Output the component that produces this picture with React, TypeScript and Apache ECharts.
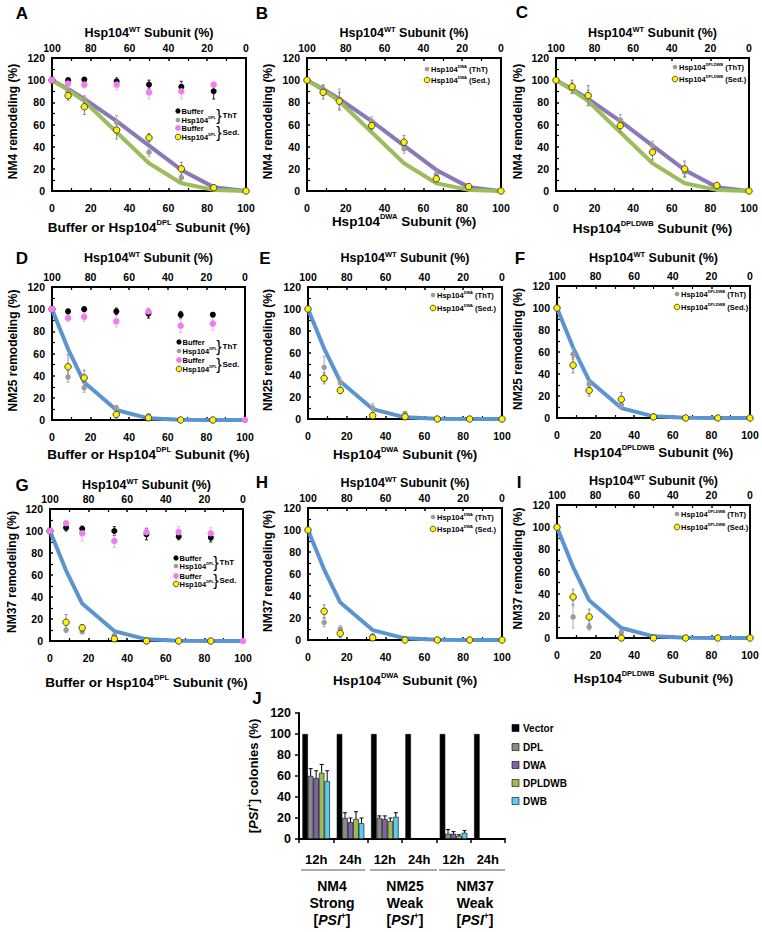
import React, { useEffect, useRef } from "react";
import * as echarts from "echarts";

const FONT = 'Arial, "Liberation Sans", Helvetica, sans-serif';

// Hsp104 mutant subunit (%) — WT subunit = 100 - x
const subunitPct = [0, 8.33, 16.67, 33.33, 50, 66.67, 83.33, 100];

// model curves
const nm4ModelPurple = [100, 92, 83, 63, 41, 19, 3.5, 0];
const nm4ModelGreen = [100, 91, 81, 53, 25, 7, 1, 0];
const weakModelBlue = [100, 64, 34, 9, 1.5, 0.3, 0, 0];

// A: NM4, DPL
const aBufferThT = [null, 100, 100.5, 99, 96, 94, 90, null];
const aBufferThTErr = [0, 2, 2, 3, 4, 5, 7, 0];
const aBufferSed = [100, 97, 96, 96, 89, 90, 96, null];
const aBufferSedErr = [0, 3, 3, 5, 6, 7, 2, 0];
const aMutThT = [100, 90, 83, 62, 35, 12, 3, 0];
const aMutThTErr = [0, 3, 3, 6, 4, 3, 1, 0];
const aMutSed = [100, 86, 76, 55, 48, 20, 3, 0];
const aMutSedErr = [0, 4, 7, 8, 4, 6, 1, 0];
// B: NM4, DWA
const bMutThT = [100, 92, 83, 63, 38, 15, 4, 0];
const bMutThTErr = [0, 4, 9, 4, 4, 3, 1, 0];
const bMutSed = [100, 89, 81, 59, 44, 11, 4, 0];
const bMutSedErr = [0, 6, 8, 4, 6, 2, 1, 0];
// C: NM4, DPLDWB
const cMutThT = [100, 93, 84, 64, 41, 17, 5, 0];
const cMutThTErr = [0, 5, 7, 5, 4, 5, 1, 0];
const cMutSed = [100, 94, 86, 59, 35, 20, 5, 0];
const cMutSedErr = [0, 6, 9, 6, 7, 7, 1, 0];
// D: NM25, DPL
const dBufferThT = [null, 98, 100, 98, 96, 95, 95, null];
const dBufferThTErr = [0, 2, 2, 3, 4, 3, 2, 0];
const dBufferSed = [100, 92, 93, 89, 98, 85, 87, 0];
const dBufferSedErr = [0, 3, 4, 5, 3, 6, 6, 0];
const dMutThT = [100, 39, 29, 11, 4, 0, 0, null];
const dMutThTErr = [0, 5, 4, 2, 1, 0, 0, 0];
const dMutSed = [100, 48, 38, 5, 2, 0, 0, null];
const dMutSedErr = [0, 11, 7, 4, 1, 0, 0, 0];
// E: NM25, DWA
const eMutThT = [100, 47, 33, 10, 5, 0, 0, 0];
const eMutThTErr = [0, 10, 5, 4, 2, 0, 0, 0];
const eMutSed = [100, 37, 26, 3, 2, 0, 0, 0];
const eMutSedErr = [0, 5, 3, 2, 1, 0, 0, 0];
// F: NM25, DPLDWB
const fMutThT = [100, 58, 31, 12, 2, 0, 0, 0];
const fMutThTErr = [0, 5, 3, 3, 1, 0, 0, 0];
const fMutSed = [100, 48, 25, 17, 1, 0, 0, 0];
const fMutSedErr = [0, 7, 5, 6, 1, 0, 0, 0];
// G: NM37, DPL
const gBufferThT = [null, 103, 102, 100, 97, 95, 94, null];
const gBufferThTErr = [0, 3, 3, 4, 5, 3, 4, 0];
const gBufferSed = [100, 107, 98, 91, 99, 99, 98, 0];
const gBufferSedErr = [0, 2, 7, 6, 4, 5, 5, 0];
const gMutThT = [100, 10, 8.5, 5, 0, 0, 0, null];
const gMutThTErr = [0, 2, 2, 2, 0, 0, 0, 0];
const gMutSed = [100, 17, 12, 2, 0, 0, 0, null];
const gMutSedErr = [0, 7, 3, 2, 0, 0, 0, 0];
// H: NM37, DWA
const hMutThT = [100, 16, 10, 4, 0, 0, 0, 0];
const hMutThTErr = [0, 4, 3, 1, 0, 0, 0, 0];
const hMutSed = [100, 26, 6, 2, 0, 0, 0, 0];
const hMutSedErr = [0, 6, 4, 1, 0, 0, 0, 0];
// I: NM37, DPLDWB
const iMutThT = [100, 19, 10, 5, 0, 0, 0, 0];
const iMutThTErr = [0, 10, 3, 2, 0, 0, 0, 0];
const iMutSed = [100, 37, 19, 0, 0, 0, 0, 0];
const iMutSedErr = [0, 7, 7, 0, 0, 0, 0, 0];

// J: [PSI+] colonies
const jCategories = ["12h", "24h", "12h", "24h", "12h", "24h"];
const jSeriesNames = ["Vector", "DPL", "DWA", "DPLDWB", "DWB"];
const jVector = [100, 100, 100, 100, 100, 100];
const jDPL = [60, 20, 20, 0, 5, 0];
const jDPLErr = [7, 5, 2, 0, 4, 0];
const jDWA = [58, 16, 19, 0, 5, 0];
const jDWAErr = [7, 4, 3, 0, 2, 0];
const jDPLDWB = [63, 19, 17, 0, 3, 0];
const jDPLDWBErr = [8, 7, 3, 0, 1, 0];
const jDWB = [55, 15, 21, 0, 6, 0];
const jDWBErr = [10, 5, 4, 0, 2, 0];
const jStrains = ["NM4", "NM25", "NM37"];
const jStrength = ["Strong", "Weak", "Weak"];

const PURPLE = "#8B78B9";
const GREEN = "#9DBC5C";
const BLUE = "#5A95CF";
const J_COLORS = ["#000000", "#8A8A8A", "#8064A2", "#9BBB59", "#5CCCEA"];

const MK: any = {
  mutThT: { color: "#9C9C9C", size: 5.5, err: "#ABABAB", border: null },
  mutSed: { color: "#FFF200", size: 6.5, err: "#8A8A8A", border: "#333" },
  bufThT: { color: "#000000", size: 6, err: "#222", border: null },
  bufSed: { color: "#F07CF0", size: 6.5, err: "#F3A8F3", border: null },
};

const panels = [
  { id: "A", strain: "NM4", mut: "DPL", buffer: true, models: [[nm4ModelPurple, PURPLE], [nm4ModelGreen, GREEN]],
    pts: { mutThT: [aMutThT, aMutThTErr], mutSed: [aMutSed, aMutSedErr], bufThT: [aBufferThT, aBufferThTErr], bufSed: [aBufferSed, aBufferSedErr] },
    L: { left: 52, top: 58, width: 194, height: 133, lx: 22, ly: 13, titleY: 33, xTitleY: 227, yNameX: 13, lgx: 178, lgRows: [111, 120, 128, 137], braceX: 219 } },
  { id: "B", strain: "NM4", mut: "DWA", buffer: false, models: [[nm4ModelPurple, PURPLE], [nm4ModelGreen, GREEN]],
    pts: { mutThT: [bMutThT, bMutThTErr], mutSed: [bMutSed, bMutSedErr] },
    L: { left: 307, top: 58, width: 194, height: 133, lx: 262, ly: 13, titleY: 33, xTitleY: 221, yNameX: 268, lgx: 427, lgRows: [69, 80] } },
  { id: "C", strain: "NM4", mut: "DPLDWB", buffer: false, models: [[nm4ModelPurple, PURPLE], [nm4ModelGreen, GREEN]],
    pts: { mutThT: [cMutThT, cMutThTErr], mutSed: [cMutSed, cMutSedErr] },
    L: { left: 556, top: 58, width: 193, height: 133, lx: 522, ly: 12, titleY: 33, xTitleY: 228, yNameX: 518, lgx: 675, lgRows: [67, 79] } },
  { id: "D", strain: "NM25", mut: "DPL", buffer: true, models: [[weakModelBlue, BLUE]],
    pts: { mutThT: [dMutThT, dMutThTErr], mutSed: [dMutSed, dMutSedErr], bufThT: [dBufferThT, dBufferThTErr], bufSed: [dBufferSed, dBufferSedErr] },
    L: { left: 52, top: 287, width: 193, height: 133, lx: 22, ly: 258, titleY: 258, xTitleY: 454, yNameX: 13, lgx: 179, lgRows: [342, 351, 360, 369], braceX: 219 } },
  { id: "E", strain: "NM25", mut: "DWA", buffer: false, models: [[weakModelBlue, BLUE]],
    pts: { mutThT: [eMutThT, eMutThTErr], mutSed: [eMutSed, eMutSedErr] },
    L: { left: 308, top: 287, width: 194, height: 132, lx: 265, ly: 258, titleY: 258, xTitleY: 454, yNameX: 268, lgx: 433, lgRows: [295, 308] } },
  { id: "F", strain: "NM25", mut: "DPLDWB", buffer: false, models: [[weakModelBlue, BLUE]],
    pts: { mutThT: [fMutThT, fMutThTErr], mutSed: [fMutSed, fMutSedErr] },
    L: { left: 557, top: 286, width: 193, height: 132, lx: 520, ly: 258, titleY: 258, xTitleY: 452, yNameX: 518, lgx: 677, lgRows: [294, 307] } },
  { id: "G", strain: "NM37", mut: "DPL", buffer: true, models: [[weakModelBlue, BLUE]],
    pts: { mutThT: [gMutThT, gMutThTErr], mutSed: [gMutSed, gMutSedErr], bufThT: [gBufferThT, gBufferThTErr], bufSed: [gBufferSed, gBufferSedErr] },
    L: { left: 50, top: 509, width: 193, height: 132, lx: 22, ly: 485, titleY: 485, xTitleY: 682, yNameX: 12, lgx: 176, lgRows: [558, 566, 576, 584], braceX: 216 } },
  { id: "H", strain: "NM37", mut: "DWA", buffer: false, models: [[weakModelBlue, BLUE]],
    pts: { mutThT: [hMutThT, hMutThTErr], mutSed: [hMutSed, hMutSedErr] },
    L: { left: 308, top: 508, width: 194, height: 132, lx: 262, ly: 482, titleY: 483, xTitleY: 680, yNameX: 268, lgx: 433, lgRows: [517, 529] } },
  { id: "I", strain: "NM37", mut: "DPLDWB", buffer: false, models: [[weakModelBlue, BLUE]],
    pts: { mutThT: [iMutThT, iMutThTErr], mutSed: [iMutSed, iMutSedErr] },
    L: { left: 557, top: 505, width: 193, height: 133, lx: 519, ly: 482, titleY: 481, xTitleY: 678, yNameX: 518, lgx: 677, lgRows: [514, 527] } },
];

const J_L = { left: 299, top: 713, width: 206, height: 126 };

function pairs(ys: any[]) {
  return subunitPct.map((x, i) => [x, ys[i]]).filter((p) => p[1] != null);
}
function errs(ys: any[], es: number[]) {
  return subunitPct
    .map((x, i) => (ys[i] == null || !es[i] ? null : [x, ys[i] - es[i], ys[i] + es[i]]))
    .filter(Boolean);
}

function rich(size: number, sup: number, lh: number) {
  return {
    a: { fontFamily: FONT, fontWeight: "bold", fontSize: size, fill: "#000", color: "#000", lineHeight: lh },
    i: { fontFamily: FONT, fontWeight: "bold", fontStyle: "italic", fontSize: size, fill: "#000", color: "#000", lineHeight: lh },
    s: { fontFamily: FONT, fontWeight: "bold", fontSize: sup, fill: "#000", color: "#000", verticalAlign: "top" },
  };
}

function txt(x: number, y: number, text: string, r: any, align = "center", rotation = 0) {
  return {
    type: "text",
    x,
    y,
    rotation,
    silent: true,
    style: { text, rich: r, align, verticalAlign: "middle", fill: "#000", fontFamily: FONT, fontWeight: "bold", fontSize: 12 },
  };
}

function lineErrRender(color: string) {
  return (params: any, api: any) => {
    const x = api.value(0);
    const a = api.coord([x, api.value(2)]);
    const b = api.coord([x, Math.max(0, api.value(1))]);
    const st = { stroke: color, lineWidth: 1 };
    return {
      type: "group",
      children: [
        { type: "line", shape: { x1: a[0], y1: a[1], x2: b[0], y2: b[1] }, style: st },
        { type: "line", shape: { x1: a[0] - 1.5, y1: a[1], x2: a[0] + 1.5, y2: a[1] }, style: st },
        { type: "line", shape: { x1: b[0] - 1.5, y1: b[1], x2: b[0] + 1.5, y2: b[1] }, style: st },
      ],
    };
  };
}

function buildOption() {
  const grid: any[] = [];
  const xAxis: any[] = [];
  const yAxis: any[] = [];
  const series: any[] = [];
  const graphic: any[] = [];

  const tickLabel = { fontFamily: FONT, fontWeight: "bold", fontSize: 10.5, color: "#000" };
  const axLine = { show: true, lineStyle: { color: "#000", width: 2 } };
  const axTick = { show: true, inside: true, length: 3, lineStyle: { color: "#000", width: 1.5 } };
  const minor = { show: true, splitNumber: 2, length: 3, lineStyle: { color: "#000", width: 1.2 } };

  const R_title = rich(12.5, 7.5, 16);
  const R_xtitle = rich(13.5, 7.5, 17);
  const R_yname = rich(12, 7, 15);
  const R_leg = rich(7.5, 4, 9);
  const R_legBuf = rich(7.5, 3.8, 9);

  panels.forEach((p: any, i: number) => {
    const L = p.L;
    grid.push({ left: L.left, top: L.top, width: L.width, height: L.height, show: true, borderColor: "#000", borderWidth: 2, backgroundColor: "transparent" });
    xAxis.push({
      gridIndex: i, type: "value", min: 0, max: 100, interval: 20, position: "bottom",
      axisLine: axLine, axisTick: axTick, minorTick: minor, splitLine: { show: false },
      axisLabel: { ...tickLabel, margin: 11 },
    });
    xAxis.push({
      gridIndex: i, type: "value", min: 0, max: 100, interval: 20, position: "top", inverse: true,
      axisLine: axLine, axisTick: axTick, minorTick: minor, splitLine: { show: false },
      axisLabel: { ...tickLabel, margin: 5 },
    });
    yAxis.push({
      gridIndex: i, type: "value", min: 0, max: 120, interval: 20,
      axisLine: axLine, axisTick: axTick, minorTick: minor, splitLine: { show: false },
      axisLabel: { ...tickLabel, margin: 7 },
    });
    const xi = 2 * i;
    p.models.forEach((m: any) => {
      series.push({
        type: "line", xAxisIndex: xi, yAxisIndex: i, data: pairs(m[0]), showSymbol: false, symbol: "none",
        lineStyle: { color: m[1], width: 4 }, z: 2, silent: true,
      });
    });
    const order = ["mutThT", "mutSed", "bufThT", "bufSed"];
    order.forEach((k) => {
      const d = p.pts[k];
      if (!d) return;
      series.push({
        type: "custom", xAxisIndex: xi, yAxisIndex: i, data: errs(d[0], d[1]), encode: { x: 0, y: [1, 2] },
        renderItem: lineErrRender(MK[k].err), z: 3, silent: true,
      });
    });
    order.forEach((k) => {
      const d = p.pts[k];
      if (!d) return;
      series.push({
        type: "scatter", xAxisIndex: xi, yAxisIndex: i, data: pairs(d[0]), symbol: "circle", symbolSize: MK[k].size,
        itemStyle: { color: MK[k].color, borderColor: MK[k].border || MK[k].color, borderWidth: MK[k].border ? 0.9 : 0, opacity: 1 },
        z: 4, silent: true,
      });
    });

    const cx = L.left + L.width / 2;
    graphic.push({ type: "text", x: L.lx, y: L.ly, silent: true, style: { text: p.id, fontFamily: FONT, fontWeight: "bold", fontSize: 17, fill: "#000", align: "center", verticalAlign: "middle" } });
    graphic.push(txt(cx, L.titleY, "{a|Hsp104}{s|WT}{a| Subunit (%)}", R_title));
    const xt = p.buffer ? `{a|Buffer or Hsp104}{s|${p.mut}}{a| Subunit (%)}` : `{a|Hsp104}{s|${p.mut}}{a| Subunit (%)}`;
    graphic.push(txt(cx, L.xTitleY, xt, R_xtitle));
    graphic.push(txt(L.yNameX, L.top + L.height / 2 - 3, `{a|${p.strain} remodeling (%)}`, R_yname, "center", Math.PI / 2));

    // legend
    const circ = (x: number, y: number, k: string) => ({
      type: "circle", silent: true, shape: { cx: x, cy: y, r: MK[k].size / 2 - 0.4 },
      style: { fill: MK[k].color, stroke: MK[k].border || MK[k].color, lineWidth: MK[k].border ? 0.8 : 0 },
    });
    if (p.buffer) {
      const rows = L.lgRows;
      const items = [
        ["bufThT", "{a|Buffer}"],
        ["mutThT", `{a|Hsp104}{s|${p.mut}}`],
        ["bufSed", "{a|Buffer}"],
        ["mutSed", `{a|Hsp104}{s|${p.mut}}`],
      ];
      items.forEach((it, r) => {
        graphic.push(circ(L.lgx, rows[r], it[0]));
        graphic.push(txt(L.lgx + 3.5, rows[r], it[1], R_legBuf, "left"));
      });
      [[0, "ThT"], [2, "Sed."]].forEach((b: any) => {
        const yc = (rows[b[0]] + rows[b[0] + 1]) / 2;
        graphic.push({ type: "text", x: L.braceX, y: yc, silent: true, style: { text: "}", fontFamily: FONT, fontWeight: "normal", fontSize: 16, fill: "#000", align: "center", verticalAlign: "middle" } });
        graphic.push(txt(L.braceX + 3.5, yc, `{a|${b[1]}}`, rich(8, 5, 10), "left"));
      });
    } else {
      const rows = L.lgRows;
      graphic.push(circ(L.lgx, rows[0], "mutThT"));
      graphic.push(txt(L.lgx + 4, rows[0], `{a|Hsp104}{s|${p.mut}}{a| (ThT)}`, R_leg, "left"));
      graphic.push(circ(L.lgx, rows[1], "mutSed"));
      graphic.push(txt(L.lgx + 4, rows[1], `{a|Hsp104}{s|${p.mut}}{a| (Sed.)}`, R_leg, "left"));
    }
  });

  // ---------- Panel J ----------
  const jg = panels.length;
  grid.push({ left: J_L.left, top: J_L.top, width: J_L.width, height: J_L.height, show: false });
  const jx = xAxis.length;
  xAxis.push({
    gridIndex: jg, type: "category", data: jCategories,
    axisLine: { show: true, lineStyle: { color: "#000", width: 2 } },
    axisTick: { show: true, length: 4, lineStyle: { color: "#000", width: 1.5 } },
    axisLabel: { fontFamily: FONT, fontWeight: "bold", fontSize: 13, color: "#000", margin: 14 },
  });
  yAxis.push({
    gridIndex: jg, type: "value", min: 0, max: 120, interval: 20,
    axisLine: { show: true, lineStyle: { color: "#000", width: 2 } },
    axisTick: { show: true, length: 4, lineStyle: { color: "#000", width: 1.5 } },
    splitLine: { show: false },
    axisLabel: { fontFamily: FONT, fontWeight: "bold", fontSize: 12.5, color: "#000", margin: 8 },
  });
  const jVals = [jVector, jDPL, jDWA, jDPLDWB, jDWB];
  const jErrs = [null, jDPLErr, jDWAErr, jDPLDWBErr, jDWBErr];
  const BW = 5.5;
  jVals.forEach((v, k) => {
    series.push({
      type: "bar", name: jSeriesNames[k], xAxisIndex: jx, yAxisIndex: jg, data: v, barWidth: BW, barGap: "0%",
      itemStyle: { color: J_COLORS[k], borderColor: "#000", borderWidth: 0.6 }, z: 2, silent: true,
    });
  });
  jErrs.forEach((e, k) => {
    if (!e) return;
    const vals = jVals[k];
    const data = vals.map((v, c) => (v > 0 ? [c, v, v + e[c]] : null)).filter(Boolean);
    series.push({
      type: "custom", xAxisIndex: jx, yAxisIndex: jg, data, encode: { x: 0, y: [1, 2] }, z: 3, silent: true,
      renderItem: (params: any, api: any) => {
        const c = api.value(0);
        const a = api.coord([c, api.value(1)]);
        const b = api.coord([c, api.value(2)]);
        const off = (k - 2) * BW;
        const x = a[0] + off;
        const st = { stroke: "#000", lineWidth: 1 };
        return {
          type: "group",
          children: [
            { type: "line", shape: { x1: x, y1: a[1], x2: x, y2: b[1] }, style: st },
            { type: "line", shape: { x1: x - 2, y1: b[1], x2: x + 2, y2: b[1] }, style: st },
          ],
        };
      },
    });
  });

  graphic.push({ type: "text", x: 257, y: 698, silent: true, style: { text: "J", fontFamily: FONT, fontWeight: "bold", fontSize: 17, fill: "#000", align: "center", verticalAlign: "middle" } });
  graphic.push(txt(253, 776, "{a|[}{i|PSI}{s|+}{a|] colonies (%)}", rich(13, 8, 16), "center", Math.PI / 2));

  // legend J
  const legRows = [728, 747, 765, 783, 801];
  jSeriesNames.forEach((n, k) => {
    graphic.push({ type: "rect", silent: true, shape: { x: 512, y: legRows[k] - 3.5, width: 7, height: 7 }, style: { fill: J_COLORS[k], stroke: "#000", lineWidth: 0.6 } });
    graphic.push(txt(523, legRows[k], `{a|${n}}`, rich(10, 6, 12), "left"));
  });

  // group separators and labels
  const groupLines = [[301, 365], [370, 437], [439, 505]];
  const groupCx = [332, 405, 475];
  groupLines.forEach((g) => {
    graphic.push({ type: "line", silent: true, shape: { x1: g[0], y1: 870, x2: g[1], y2: 870 }, style: { stroke: "#555", lineWidth: 1 } });
  });
  const R_g = rich(14, 8.5, 17);
  jStrains.forEach((s, k) => {
    graphic.push(txt(groupCx[k], 886, `{a|${s}}`, R_g));
    graphic.push(txt(groupCx[k], 903, `{a|${jStrength[k]}}`, R_g));
    graphic.push(txt(groupCx[k], 920, "{a|[}{i|PSI}{s|+}{a|]}", R_g));
  });

  return { animation: false, backgroundColor: "#fff", grid, xAxis, yAxis, series, graphic };
}

export default function App() {
  const ref = useRef<HTMLDivElement>(null);
  useEffect(() => {
    const chart = echarts.init(ref.current!, null, { renderer: "svg", width: 762, height: 932 });
    chart.setOption(buildOption() as any);
    return () => chart.dispose();
  }, []);
  return <div ref={ref} style={{ position: "absolute", left: 0, top: 0, width: 762, height: 932, background: "#fff" }} />;
}
